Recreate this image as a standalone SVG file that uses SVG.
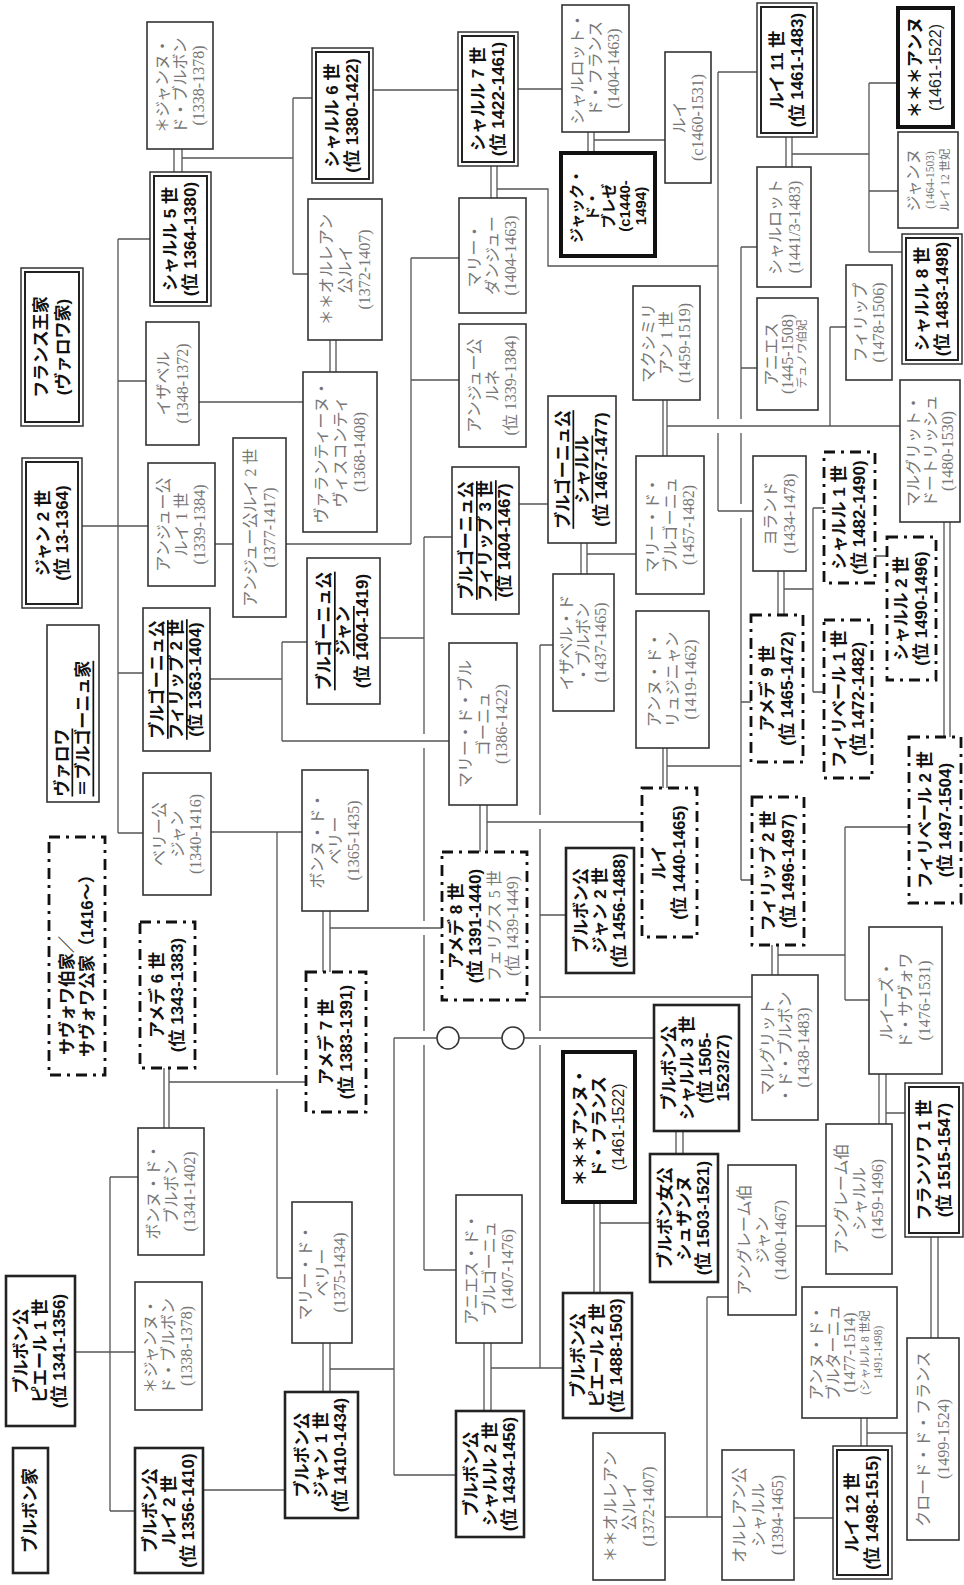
<svg xmlns="http://www.w3.org/2000/svg" width="964" height="1585" viewBox="0 0 964 1585">
<style>
.box{fill:#fff;stroke:#333;stroke-width:1.6}
.bb{fill:#fff;stroke:#222;stroke-width:2.6}
.tk{fill:#fff;stroke:#111;stroke-width:4}
.dd{fill:#fff;stroke:#111;stroke-width:2.8;stroke-dasharray:11 6 3 6}
.d1{fill:#fff;stroke:#333;stroke-width:1.5}
.d2{fill:none;stroke:#222;stroke-width:2}
.b{font-family:"Liberation Sans","Noto Sans CJK JP",sans-serif;font-weight:bold;font-size:17px;fill:#111;text-anchor:middle;dominant-baseline:central}
.bs{font-family:"Liberation Sans","Noto Sans CJK JP",sans-serif;font-weight:bold;font-size:15px;fill:#111;text-anchor:middle;dominant-baseline:central}
.g{font-family:"Liberation Serif","Noto Sans CJK JP",serif;font-size:16px;fill:#777;text-anchor:middle;dominant-baseline:central}
.r{font-family:"Liberation Sans","Noto Sans CJK JP",sans-serif;font-size:16px;fill:#222;text-anchor:middle;dominant-baseline:central}
.s{font-family:"Liberation Serif","Noto Sans CJK JP",serif;font-size:11.5px;fill:#777;text-anchor:middle;dominant-baseline:central}
.st{text-anchor:start}
.u{text-decoration:underline}
.conn path{fill:none;stroke:#555;stroke-width:1.3}
.conn circle{fill:#fff;stroke:#333;stroke-width:1.5}
</style>
<rect width="964" height="1585" fill="#fff"/>
<g id="connectors" class="conn">
<path d="M174 149V172M182 149V172M182 158H293M293 98V274M293 98H312M293 274H308"/>
<path d="M118 239V833M118 239H150M118 381H146M118 673H143M118 833H143M82 526H148"/>
<path d="M199 402H303M215 544H233M286 544H411M411 258V544M411 258H459M411 380H459M330 340V372M336 340V372"/>
<path d="M210 679H282M282 642V741M282 642H307M282 741H449"/>
<path d="M380 638H424M424 537V734M424 748V921M424 935V1031M424 1045V1270M424 537H452M424 1270H456"/>
<path d="M519 504H548M581 543V574M587 543V574M587 554H636"/>
<path d="M663 400V456M667 400V456M667 426H900M830 327V426M830 327H846"/>
<path d="M480 805V852M487 805V852M487 822H642"/>
<path d="M540 645V815M540 829V1031M540 1045V1368M540 645H553M540 915H566M540 997H752M491 1368H563"/>
<path d="M491 166V198M497 166V198M497 189H548V266H718M718 72V419M718 433V511M718 72H757M718 511H753"/>
<path d="M373 90H458M518 89H562M588 132V153M594 132V153M594 140H665"/>
<path d="M786 137V167M792 137V167M792 154H869M869 83V252M869 83H898M869 191H898M869 252H902"/>
<path d="M741 247V419M741 433V504M741 518V880M741 247H757M741 368H757M741 702H751M741 880H752M663 748V788M667 748V788M667 766H741"/>
<path d="M778 571V615M784 571V615M784 589H813M813 508V692M813 508H824M813 692H824M875 556H887M944 522V737M950 522V737"/>
<path d="M772 945V975M778 945V975M778 955H845M845 827V1000M845 827H909M845 1000H869"/>
<path d="M879 1074V1124M886 1074V1124M886 1113H905M676 1131V1154M683 1131V1154M796 1226H826"/>
<path d="M861 1418V1446M867 1418V1446M867 1433H907M931 1237V1338M938 1237V1338M794 1518H833M665 1517H722M707 1297V1517M707 1297H728"/>
<path d="M594 1202V1293M600 1202V1293M600 1223H650M484 1343V1411M491 1343V1411"/>
<path d="M323 1343V1392M330 1343V1392M330 1369H394M394 1038V1475M394 1475H456M394 1038H437M459 1038H502M524 1038H654"/>
<path d="M211 832H302M277 832V1075M277 1089V1278M277 1278H292M323 911V972M330 911V972M330 928H442M164 1068V1128M169 1068V1128M169 1082H306"/>
<path d="M75 1352H135M110 1177V1511M110 1177H138M110 1511H135M203 1490H285"/>
<circle cx="448" cy="1038" r="11"/>
<circle cx="513" cy="1038" r="11"/>
</g>

<g id="n-jeanne-top"><rect class="box" x="147" y="22" width="66" height="127"/><g transform="translate(180 85.5) rotate(-90)"><text class="g" y="-18">＊ジャンヌ・</text><text class="g">ド・ブルボン</text><text class="g" y="18">(1338-1378)</text></g></g>
<g id="n-charles5"><rect class="d1" x="150" y="172" width="61" height="134"/><rect class="d2" x="154" y="176" width="53" height="126"/><g transform="translate(180.5 239) rotate(-90)"><text class="b" y="-10">シャルル 5 世</text><text class="b" y="10">(位 1364-1380)</text></g></g>
<g id="n-france"><rect class="d1" x="21" y="268" width="62" height="158"/><rect class="d2" x="25" y="272" width="54" height="150"/><g transform="translate(52 347) rotate(-90)"><text class="b" y="-11">フランス王家</text><text class="b" y="11">(ヴァロワ家)</text></g></g>
<g id="n-jean2"><rect class="d1" x="22" y="458" width="60" height="150"/><rect class="d2" x="26" y="462" width="52" height="142"/><g transform="translate(52 533) rotate(-90)"><text class="b" y="-9">ジャン 2 世</text><text class="b" y="10">(位 13-1364)</text></g></g>
<g id="n-charles6"><rect class="d1" x="312" y="48" width="61" height="135"/><rect class="d2" x="316" y="52" width="53" height="127"/><g transform="translate(342.5 115.5) rotate(-90)"><text class="b" y="-10">シャルル 6 世</text><text class="b" y="10">(位 1380-1422)</text></g></g>
<g id="n-orleans-top"><rect class="box" x="308" y="199" width="74" height="141"/><g transform="translate(345 269.5) rotate(-90)"><text class="g" y="-19">＊＊オルレアン</text><text class="g">公ルイ</text><text class="g" y="19">(1372-1407)</text></g></g>
<g id="n-isabelle"><rect class="box" x="146" y="322" width="53" height="123"/><g transform="translate(172.5 383.5) rotate(-90)"><text class="g" y="-9">イザベル</text><text class="g" y="10">(1348-1372)</text></g></g>
<g id="n-anjou1"><rect class="box" x="148" y="463" width="67" height="123"/><g transform="translate(181.5 524.5) rotate(-90)"><text class="g" y="-18">アンジュー公</text><text class="g">ルイ 1 世</text><text class="g" y="18">(1339-1384)</text></g></g>
<g id="n-anjou2"><rect class="box" x="233" y="438" width="53" height="179"/><g transform="translate(259.5 527.5) rotate(-90)"><text class="g" y="-9">アンジュー公ルイ 2 世</text><text class="g" y="10">(1377-1417)</text></g></g>
<g id="n-valentine"><rect class="box" x="303" y="372" width="74" height="160"/><g transform="translate(340 452) rotate(-90)"><text class="g" y="-19">ヴァランティーヌ・</text><text class="g">ヴィスコンティ</text><text class="g" y="19">(1368-1408)</text></g></g>
<g id="n-philip2"><rect class="box" x="143" y="608" width="67" height="143"/><g transform="translate(176.5 679.5) rotate(-90)"><text class="b u" y="-19">ブルゴーニュ公</text><text class="b u">フィリップ 2 世</text><text class="b" y="19">(位 1363-1404)</text></g></g>
<g id="n-valois-burgundy"><rect class="box" x="47" y="625" width="52" height="177"/><g transform="translate(73 713.5) rotate(-90)"><text class="b u st" x="-83" y="-11">ヴァロワ</text><text class="b u st" x="-83" y="10">＝ブルゴーニュ家</text></g></g>
<g id="n-berry"><rect class="box" x="143" y="773" width="68" height="122"/><g transform="translate(177 834) rotate(-90)"><text class="g" y="-18">ベリー公</text><text class="g">ジャン</text><text class="g" y="18">(1340-1416)</text></g></g>
<g id="n-bonne-berry"><rect class="box" x="302" y="770" width="66" height="141"/><g transform="translate(335 840.5) rotate(-90)"><text class="g" y="-18">ボンヌ・ド・</text><text class="g">ベリー</text><text class="g" y="18">(1365-1435)</text></g></g>
<g id="n-savoy-house"><rect class="dd" x="49" y="837" width="56" height="238"/><g transform="translate(77 956) rotate(-90)"><text class="b st" x="-99" y="-10">サヴォワ伯家／</text><text class="b st" x="-101" y="10">サヴォワ公家（1416〜）</text></g></g>
<g id="n-amedee6"><rect class="dd" x="140" y="922" width="55" height="146"/><g transform="translate(167.5 995) rotate(-90)"><text class="b" y="-10">アメデ 6 世</text><text class="b" y="10">(位 1343-1383)</text></g></g>
<g id="n-amedee7"><rect class="dd" x="306" y="972" width="60" height="140"/><g transform="translate(336 1042) rotate(-90)"><text class="b" y="-10">アメデ 7 世</text><text class="b" y="10">(位 1383-1391)</text></g></g>
<g id="n-bonne-bourbon"><rect class="box" x="138" y="1128" width="66" height="127"/><g transform="translate(171 1191.5) rotate(-90)"><text class="g" y="-18">ボンヌ・ド・</text><text class="g">ブルボン</text><text class="g" y="18">(1341-1402)</text></g></g>
<g id="n-marie-berry"><rect class="box" x="292" y="1202" width="60" height="141"/><g transform="translate(322 1272.5) rotate(-90)"><text class="g" y="-17">マリー・ド・</text><text class="g">ベリー</text><text class="g" y="17">(1375-1434)</text></g></g>
<g id="n-pierre1"><rect class="bb" x="6" y="1276" width="69" height="150"/><g transform="translate(40.5 1351) rotate(-90)"><text class="b" y="-19">ブルボン公</text><text class="b">ピエール 1 世</text><text class="b" y="19">(位 1341-1356)</text></g></g>
<g id="n-jeanne-bottom"><rect class="box" x="135" y="1282" width="67" height="128"/><g transform="translate(168.5 1346) rotate(-90)"><text class="g" y="-18">＊ジャンヌ・</text><text class="g">ド・ブルボン</text><text class="g" y="18">(1338-1378)</text></g></g>
<g id="n-bourbon-house"><rect class="bb" x="13" y="1448" width="35" height="125"/><g transform="translate(30.5 1510.5) rotate(-90)"><text class="b">ブルボン家</text></g></g>
<g id="n-louis2"><rect class="bb" x="135" y="1448" width="68" height="125"/><g transform="translate(169 1510.5) rotate(-90)"><text class="b" y="-19">ブルボン公</text><text class="b">ルイ 2 世</text><text class="b" y="19">(位 1356-1410)</text></g></g>
<g id="n-jean1"><rect class="bb" x="285" y="1392" width="73" height="126"/><g transform="translate(321.5 1455) rotate(-90)"><text class="b" y="-19">ブルボン公</text><text class="b">ジャン 1 世</text><text class="b" y="19">(位 1410-1434)</text></g></g>
<g id="n-charles2-bourbon"><rect class="bb" x="456" y="1411" width="68" height="126"/><g transform="translate(490 1474) rotate(-90)"><text class="b" y="-19">ブルボン公</text><text class="b">シャルル 2 世</text><text class="b" y="19">(位 1434-1456)</text></g></g>
<g id="n-agnes-bourgogne"><rect class="box" x="456" y="1195" width="66" height="148"/><g transform="translate(489 1269) rotate(-90)"><text class="g" y="-18">アニエス・ド・</text><text class="g">ブルゴーニュ</text><text class="g" y="18">(1407-1476)</text></g></g>
<g id="n-anne-france"><rect class="tk" x="563" y="1052" width="72" height="150"/><g transform="translate(599 1127) rotate(-90)"><text class="b" y="-19">＊＊＊アンヌ・</text><text class="b">ド・フランス</text><text class="r" y="19">(1461-1522)</text></g></g>
<g id="n-pierre2"><rect class="bb" x="563" y="1293" width="69" height="125"/><g transform="translate(597.5 1355.5) rotate(-90)"><text class="b" y="-19">ブルボン公</text><text class="b">ピエール 2 世</text><text class="b" y="19">(位 1488-1503)</text></g></g>
<g id="n-orleans-bottom"><rect class="box" x="593" y="1433" width="72" height="147"/><g transform="translate(629 1506.5) rotate(-90)"><text class="g" y="-19">＊＊オルレアン</text><text class="g">公ルイ</text><text class="g" y="19">(1372-1407)</text></g></g>
<g id="n-marie-1386"><rect class="box" x="449" y="643" width="68" height="162"/><g transform="translate(483 724) rotate(-90)"><text class="g" y="-18">マリー・ド・ブル</text><text class="g">ゴーニュ</text><text class="g" y="18">(1386-1422)</text></g></g>
<g id="n-amedee8"><rect class="dd" x="442" y="852" width="85" height="148"/><g transform="translate(484.5 926) rotate(-90)"><text class="b" y="-28">アメデ 8 世</text><text class="b" y="-9">(位 1391-1440)</text><text class="g" y="10">フェリクス 5 世</text><text class="g" y="28">(位 1439-1449)</text></g></g>
<g id="n-jean2-bourbon"><rect class="bb" x="566" y="848" width="68" height="125"/><g transform="translate(600 910.5) rotate(-90)"><text class="b" y="-19">ブルボン公</text><text class="b">ジャン 2 世</text><text class="b" y="19">(位 1456-1488)</text></g></g>
<g id="n-louis-savoy"><rect class="dd" x="642" y="788" width="55" height="149"/><g transform="translate(669.5 862.5) rotate(-90)"><text class="b" y="-10">ルイ</text><text class="b" y="10">(位 1440-1465)</text></g></g>
<g id="n-jean-burgundy"><rect class="box" x="307" y="558" width="73" height="146"/><g transform="translate(343.5 631) rotate(-90)"><text class="b u" y="-19">ブルゴーニュ公</text><text class="b u">ジャン</text><text class="b" y="19">(位 1404-1419)</text></g></g>
<g id="n-philip3"><rect class="box" x="452" y="467" width="67" height="147"/><g transform="translate(485.5 540.5) rotate(-90)"><text class="b u" y="-19">ブルゴーニュ公</text><text class="b u">フィリップ 3 世</text><text class="b" y="19">(位 1404-1467)</text></g></g>
<g id="n-charles-burgundy"><rect class="box" x="548" y="396" width="68" height="147"/><g transform="translate(582 469.5) rotate(-90)"><text class="b u" y="-19">ブルゴーニュ公</text><text class="b u">シャルル</text><text class="b" y="19">(位 1467-1477)</text></g></g>
<g id="n-isabelle-bourbon"><rect class="box" x="553" y="574" width="61" height="137"/><g transform="translate(583.5 642.5) rotate(-90)"><text class="g" y="-17">イザベル・ド</text><text class="g">・ブルボン</text><text class="g" y="17">(1437-1465)</text></g></g>
<g id="n-marie-1457"><rect class="box" x="636" y="456" width="68" height="138"/><g transform="translate(670 525) rotate(-90)"><text class="g" y="-18">マリー・ド・</text><text class="g">ブルゴーニュ</text><text class="g" y="18">(1457-1482)</text></g></g>
<g id="n-anne-lusignan"><rect class="box" x="636" y="611" width="73" height="137"/><g transform="translate(672.5 679.5) rotate(-90)"><text class="g" y="-18">アンヌ・ド・</text><text class="g">リュジニャン</text><text class="g" y="18">(1419-1462)</text></g></g>
<g id="n-maximilian"><rect class="box" x="633" y="286" width="67" height="114"/><g transform="translate(666.5 343) rotate(-90)"><text class="g" y="-18">マクシミリ</text><text class="g">アン 1 世</text><text class="g" y="18">(1459-1519)</text></g></g>
<g id="n-charles7"><rect class="d1" x="458" y="32" width="60" height="134"/><rect class="d2" x="462" y="36" width="52" height="126"/><g transform="translate(488 99) rotate(-90)"><text class="b" y="-10">シャルル 7 世</text><text class="b" y="10">(位 1422-1461)</text></g></g>
<g id="n-marie-anjou"><rect class="box" x="459" y="198" width="67" height="115"/><g transform="translate(492.5 255.5) rotate(-90)"><text class="g" y="-18">マリー・</text><text class="g">ダンジュー</text><text class="g" y="18">(1404-1463)</text></g></g>
<g id="n-rene"><rect class="box" x="459" y="324" width="67" height="123"/><g transform="translate(492.5 385.5) rotate(-90)"><text class="g" y="-18">アンジュー公</text><text class="g">ルネ</text><text class="g" y="18">(位 1339-1384)</text></g></g>
<g id="n-charlotte-france"><rect class="box" x="562" y="5" width="67" height="127"/><g transform="translate(595.5 68.5) rotate(-90)"><text class="g" y="-18">シャルロット・</text><text class="g">ド・フランス</text><text class="g" y="18">(1404-1463)</text></g></g>
<g id="n-jacques"><rect class="tk" x="561" y="153" width="94" height="103"/><g transform="translate(608 206) rotate(-90)"><text class="bs" y="-32">ジャック・</text><text class="bs" y="-16">ド・</text><text class="bs">ブレゼ</text><text class="bs" y="16">(c1440-</text><text class="bs" y="32">1494)</text></g></g>
<g id="n-louis-c1460"><rect class="box" x="665" y="52" width="46" height="131"/><g transform="translate(688 117.5) rotate(-90)"><text class="g" y="-9">ルイ</text><text class="g" y="9">(c1460-1531)</text></g></g>
<g id="n-louis11"><rect class="d1" x="757" y="3" width="60" height="134"/><rect class="d2" x="761" y="7" width="52" height="126"/><g transform="translate(787 70) rotate(-90)"><text class="b" y="-10">ルイ 11 世</text><text class="b" y="10">(位 1461-1483)</text></g></g>
<g id="n-anne-top"><rect class="tk" x="898" y="8" width="55" height="119"/><g transform="translate(925.5 67.5) rotate(-90)"><text class="b" y="-10">＊＊＊アンヌ</text><text class="r" y="10">(1461-1522)</text></g></g>
<g id="n-jeanne-1464"><rect class="box" x="898" y="132" width="60" height="96"/><g transform="translate(928 180) rotate(-90)"><text class="g" y="-15">ジャンヌ</text><text class="s" y="2">(1464-1503)</text><text class="s" y="17">ルイ 12 世妃</text></g></g>
<g id="n-charles8"><rect class="d1" x="902" y="234" width="60" height="130"/><rect class="d2" x="906" y="238" width="52" height="122"/><g transform="translate(932 299) rotate(-90)"><text class="b" y="-10">シャルル 8 世</text><text class="b" y="10">(位 1483-1498)</text></g></g>
<g id="n-charlotte-savoy"><rect class="box" x="757" y="167" width="54" height="120"/><g transform="translate(784 227) rotate(-90)"><text class="g" y="-9">シャルロット</text><text class="g" y="10">(1441/3-1483)</text></g></g>
<g id="n-agnes-savoy"><rect class="box" x="757" y="298" width="61" height="112"/><g transform="translate(787.5 354) rotate(-90)"><text class="g" y="-16">アニエス</text><text class="g" y="0">(1445-1508)</text><text class="s" y="14">デュノワ伯妃</text></g></g>
<g id="n-philippe"><rect class="box" x="846" y="265" width="46" height="115"/><g transform="translate(869 322.5) rotate(-90)"><text class="g" y="-9">フィリップ</text><text class="g" y="9">(1478-1506)</text></g></g>
<g id="n-marguerite-autriche"><rect class="box" x="900" y="380" width="60" height="142"/><g transform="translate(930 451) rotate(-90)"><text class="g" y="-17">マルグリット・</text><text class="g">ドートリッシュ</text><text class="g" y="17">(1480-1530)</text></g></g>
<g id="n-yolande"><rect class="box" x="753" y="456" width="53" height="115"/><g transform="translate(779.5 513.5) rotate(-90)"><text class="g" y="-9">ヨランド</text><text class="g" y="10">(1434-1478)</text></g></g>
<g id="n-amedee9"><rect class="dd" x="751" y="615" width="52" height="147"/><g transform="translate(777 688.5) rotate(-90)"><text class="b" y="-10">アメデ 9 世</text><text class="b" y="10">(位 1465-1472)</text></g></g>
<g id="n-charles1-savoy"><rect class="dd" x="824" y="452" width="51" height="131"/><g transform="translate(849.5 517.5) rotate(-90)"><text class="b" y="-10">シャルル 1 世</text><text class="b" y="10">(位 1482-1490)</text></g></g>
<g id="n-philibert1"><rect class="dd" x="824" y="620" width="48" height="158"/><g transform="translate(848 699) rotate(-90)"><text class="b" y="-9">フィリベール 1 世</text><text class="b" y="10">(位 1472-1482)</text></g></g>
<g id="n-charles2-savoy"><rect class="dd" x="887" y="537" width="49" height="143"/><g transform="translate(911.5 608.5) rotate(-90)"><text class="b" y="-10">シャルル 2 世</text><text class="b" y="10">(位 1490-1496)</text></g></g>
<g id="n-philibert2"><rect class="dd" x="909" y="737" width="52" height="166"/><g transform="translate(935 820) rotate(-90)"><text class="b" y="-10">フィリベール 2 世</text><text class="b" y="10">(位 1497-1504)</text></g></g>
<g id="n-philippe2-savoy"><rect class="dd" x="752" y="797" width="52" height="148"/><g transform="translate(778 871) rotate(-90)"><text class="b" y="-10">フィリップ 2 世</text><text class="b" y="10">(位 1496-1497)</text></g></g>
<g id="n-marguerite-bourbon"><rect class="box" x="752" y="975" width="66" height="145"/><g transform="translate(785 1047.5) rotate(-90)"><text class="g" y="-18">マルグリット</text><text class="g">・ド・ブルボン</text><text class="g" y="18">(1438-1483)</text></g></g>
<g id="n-louise"><rect class="box" x="869" y="927" width="73" height="147"/><g transform="translate(905.5 1000.5) rotate(-90)"><text class="g" y="-19">ルイーズ・</text><text class="g">ド・サヴォワ</text><text class="g" y="19">(1476-1531)</text></g></g>
<g id="n-francois1"><rect class="d1" x="905" y="1083" width="58" height="154"/><rect class="d2" x="909" y="1087" width="50" height="146"/><g transform="translate(934 1160) rotate(-90)"><text class="b" y="-10">フランソワ 1 世</text><text class="b" y="10">(位 1515-1547)</text></g></g>
<g id="n-charles3-bourbon"><rect class="bb" x="654" y="1005" width="85" height="126"/><g transform="translate(696.5 1068) rotate(-90)"><text class="b" y="-27">ブルボン公</text><text class="b" y="-9">シャルル 3 世</text><text class="b" y="9">(位 1505-</text><text class="b" y="27">1523/27)</text></g></g>
<g id="n-suzanne"><rect class="bb" x="650" y="1154" width="68" height="128"/><g transform="translate(684 1218) rotate(-90)"><text class="b" y="-19">ブルボン女公</text><text class="b">シュザンヌ</text><text class="b" y="19">(位 1503-1521)</text></g></g>
<g id="n-jean-angouleme"><rect class="box" x="728" y="1165" width="68" height="150"/><g transform="translate(762 1240) rotate(-90)"><text class="g" y="-18">アングレーム伯</text><text class="g">ジャン</text><text class="g" y="18">(1400-1467)</text></g></g>
<g id="n-charles-angouleme"><rect class="box" x="826" y="1124" width="66" height="150"/><g transform="translate(859 1199) rotate(-90)"><text class="g" y="-18">アングレーム伯</text><text class="g">シャルル</text><text class="g" y="18">(1459-1496)</text></g></g>
<g id="n-anne-bretagne"><rect class="box" x="802" y="1287" width="95" height="131"/><g transform="translate(849.5 1352.5) rotate(-90)"><text class="g" y="-33">アンヌ・ド・</text><text class="g" y="-16">ブルターニュ</text><text class="g" y="0">(1477-1514)</text><text class="s" y="15">(シャルル 8 世妃</text><text class="s" y="28">1491-1498)</text></g></g>
<g id="n-claude"><rect class="box" x="907" y="1338" width="52" height="202"/><g transform="translate(933 1439) rotate(-90)"><text class="g" y="-10">クロード・ド・フランス</text><text class="g" y="10">(1499-1524)</text></g></g>
<g id="n-louis12"><rect class="d1" x="833" y="1446" width="59" height="133"/><rect class="d2" x="837" y="1450" width="51" height="125"/><g transform="translate(862.5 1512.5) rotate(-90)"><text class="b" y="-10">ルイ 12 世</text><text class="b" y="10">(位 1498-1515)</text></g></g>
<g id="n-charles-orleans"><rect class="box" x="722" y="1450" width="72" height="130"/><g transform="translate(758 1515) rotate(-90)"><text class="g" y="-19">オルレアン公</text><text class="g">シャルル</text><text class="g" y="19">(1394-1465)</text></g></g>
</svg>
